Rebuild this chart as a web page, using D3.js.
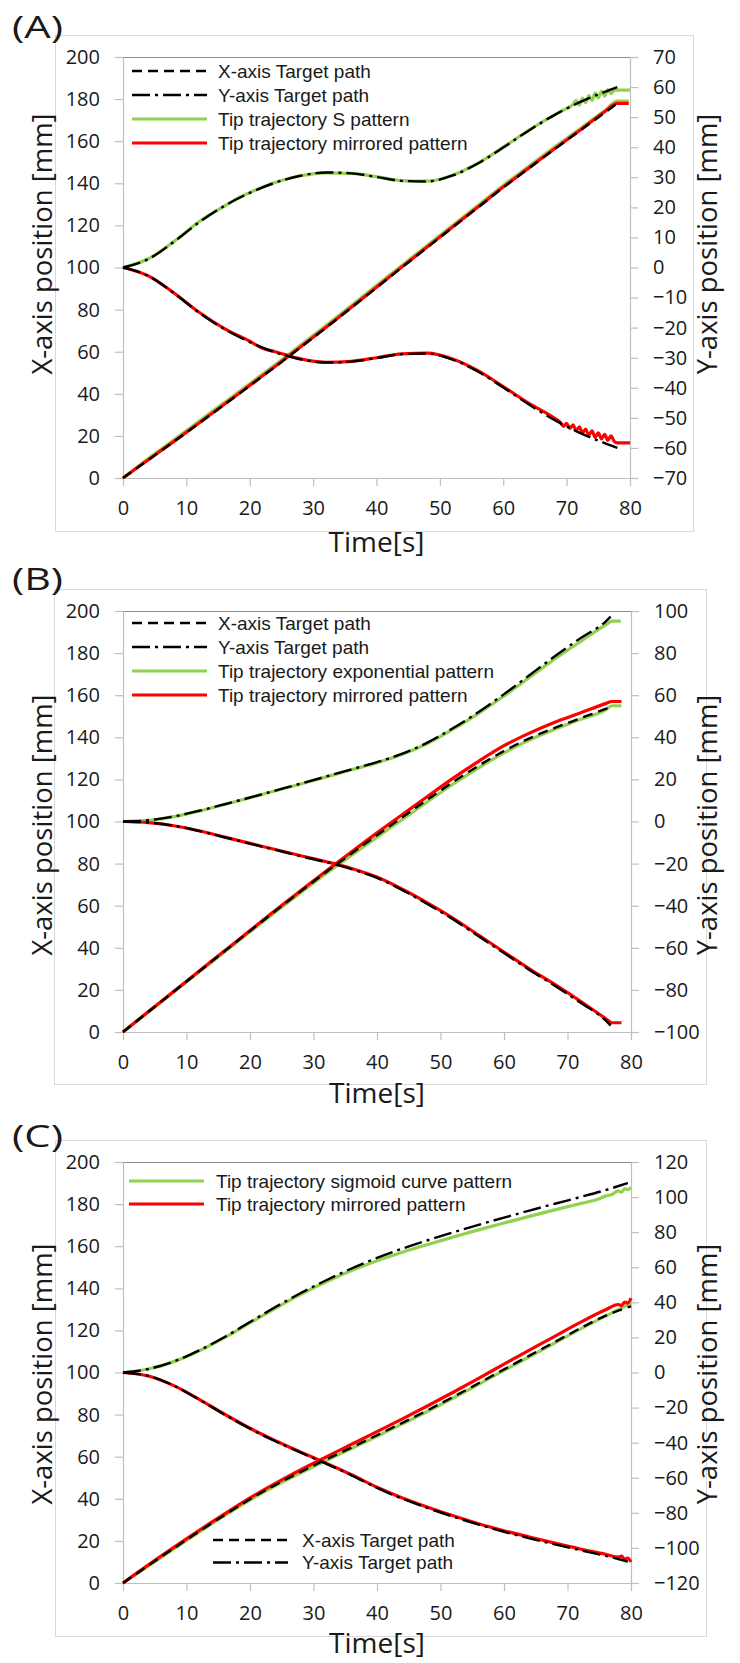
<!DOCTYPE html>
<html>
<head>
<meta charset="utf-8">
<script src="https://cdn.jsdelivr.net/npm/d3@7/dist/d3.min.js"></script>
<style>
  body { margin: 0; background: #fff; }
  svg { display: block; }
  text { font-family: 'Open Sans', sans-serif; fill: #1a1a1a; }
  .legend text { font-family: 'Liberation Sans', Arial, sans-serif; }
</style>
</head>
<body>
<script>
// ---- data: [time s, position mm] ----

// (A) S pattern
const xTargetA = [[0,0],[4,8.6],[8,17.2],[12,26],[16,34.8],[20,43.8],[24,52.8],[28,62],[32,71.3],[36,80.8],[40,90.4],[44,100],[48,109.5],[52,119],[56,128.5],[60,138],[64,147],[68,156],[72,164.8],[76,173.5],[78,178]];
const yTargetA = [[0,0],[4,2.8],[8,8.5],[12,15],[16,20.5],[20,24.8],[24,28.2],[28,30.5],[32,31.6],[36,31.3],[40,30.1],[44,28.8],[48,28.6],[52,30.6],[56,34.6],[60,39.9],[64,45.5],[68,50.6],[72,54.9],[76,58.4],[78,60]];
const yMirrorA = [[0,0],[4,-2.8],[8,-8.5],[12,-15],[16,-20.5],[20,-24.8],[24,-28.2],[28,-30.5],[32,-31.6],[36,-31.3],[40,-30.1],[44,-28.8],[48,-28.6],[52,-30.6],[56,-34.6],[60,-39.9],[64,-45.5],[68,-50.6],[72,-54.9],[76,-58.4],[78,-60]];
const greenXA = [[0,0],[4,9.3],[8,18],[12,27],[16,35.8],[20,44.8],[24,53.8],[28,63],[32,72.3],[36,81.8],[40,91.4],[44,101],[48,110.5],[52,120],[56,129.5],[60,139],[64,148],[68,157],[72,165.6],[76,174.5],[78,179],[79.8,179]];
const redXA = [[0,0],[4,8.7],[8,17.3],[12,26.1],[16,35],[20,44],[24,53],[28,62.2],[32,71.5],[36,81],[40,90.6],[44,100.2],[48,109.7],[52,119.2],[56,128.7],[60,138.2],[64,147.2],[68,156.2],[72,165],[76,174],[78,178],[79.8,178]];
const greenYA = [[0,0],[4,2.9],[8,8.6],[12,15.2],[16,20.4],[18,22.9],[20,24.9],[24,28.3],[28,30.5],[32,31.5],[36,31.3],[40,30.2],[44,28.9],[48,28.7],[52,30.7],[56,34.7],[60,40],[64,45.6],[68,50.7],[70,52.9],[71,54.2],[71.5,55.6],[72,54],[72.5,56.3],[73,54.8],[73.5,57.2],[74,55.6],[74.5,58],[75,56.4],[75.5,58.6],[76,57],[76.5,59.2],[77,57.8],[77.5,59],[80,59]];
const redYA = [[0,0],[4,-2.8],[8,-8.4],[12,-14.9],[16,-20.3],[20,-24.5],[22,-26.9],[24,-28],[28,-30.4],[32,-31.5],[36,-31.2],[40,-30],[44,-28.7],[48,-28.5],[52,-30.4],[56,-34.3],[60,-39.6],[64,-45.1],[68,-50],[69,-51.5],[69.5,-52.8],[70,-51.8],[70.5,-53.5],[71,-52.3],[71.5,-54.3],[72,-53],[72.5,-55],[73,-53.7],[73.5,-55.8],[74,-54.3],[74.5,-56.5],[75,-55],[75.5,-57],[76,-55.5],[76.5,-57.5],[77,-56],[77.5,-57.8],[78,-58.3],[80,-58.3]];

// (B) exponential pattern
const xTargetB = [[0,0],[4,9.6],[8,19.2],[12,28.8],[16,38.4],[20,48],[24,57.5],[28,66.8],[32,76],[36,84.8],[40,93.5],[44,102],[48,110.5],[52,118.8],[56,126.5],[60,133.5],[64,139.5],[68,144.5],[72,149],[76,153.5],[77,154.7]];
const yTargetB = [[0,0],[4,0.6],[8,2.4],[12,5.1],[16,8.2],[20,11.4],[24,14.7],[28,18],[32,21.4],[36,24.8],[40,28.2],[44,32.2],[48,37.6],[52,44.4],[56,52],[60,60.5],[64,69.5],[68,78.5],[72,87],[76,95],[76.8,97.3]];
const yMirrorB = [[0,0],[4,-0.5],[8,-2],[12,-4.5],[16,-7.5],[20,-10.5],[24,-13.5],[28,-16.5],[32,-19.3],[36,-22.6],[40,-26.8],[44,-32.6],[48,-39.3],[52,-46.5],[56,-54.5],[60,-62.5],[64,-70.5],[68,-78],[72,-86],[76,-94.5],[76.8,-97]];
const greenXB = [[0,0],[4,9.4],[8,19],[12,28.5],[16,38],[20,47.6],[24,57],[28,66.2],[32,75.3],[36,84],[40,92.6],[44,101],[48,109.5],[52,117.8],[56,125.5],[60,132.6],[64,138.7],[68,143.8],[72,148.4],[76,153],[77,155],[78.5,155]];
const redXB = [[0,0],[4,9.7],[8,19.3],[12,29],[16,38.6],[20,48.2],[24,57.8],[28,67.2],[32,76.5],[36,85.6],[40,94.6],[44,103.3],[48,112],[52,120.6],[56,128.6],[60,136],[64,142],[68,147.2],[72,151.6],[76,156],[77,157],[78.5,157]];
const greenYB = [[0,0],[4,0.5],[8,2.3],[12,5],[16,8.1],[20,11.3],[24,14.6],[28,17.8],[32,21.2],[36,24.6],[40,27.9],[44,31.9],[48,37.2],[52,43.9],[56,51.4],[60,59.6],[64,68.4],[68,77.2],[72,85.4],[76,93.4],[77,95.2],[78.4,95.2]];
const redYB = [[0,0],[4,-0.5],[8,-2],[12,-4.4],[16,-7.4],[20,-10.4],[24,-13.3],[28,-16.3],[32,-19.1],[36,-22.3],[40,-26.4],[44,-32.2],[48,-38.8],[52,-46],[56,-54],[60,-62],[64,-70],[68,-77.4],[72,-85.3],[76,-93.6],[77,-95.6],[78.5,-95.6]];

// (C) sigmoid curve pattern
const xTargetC = [[0,0],[4,8.3],[8,16.5],[12,24.5],[16,32.3],[20,39.8],[24,46.6],[28,52.8],[32,58.7],[36,64.4],[40,70.2],[44,76.1],[48,82.1],[52,88.4],[56,94.9],[60,101.5],[64,108],[68,114.5],[72,121],[76,127],[80,131.5]];
const yTargetC = [[0,0],[4,2],[8,6.3],[12,12.6],[16,20.2],[20,28.8],[24,37.3],[28,45.3],[32,52.6],[36,59.3],[40,65.3],[44,70.6],[48,75.4],[52,79.9],[56,84.2],[60,88.3],[64,92.3],[68,96.2],[72,100],[76,104],[79.5,108]];
const yMirrorC = [[0,0],[4,-2],[8,-7.5],[12,-15.5],[16,-24],[20,-32],[24,-39.2],[28,-45.7],[32,-52],[36,-58.6],[40,-65.8],[44,-72],[48,-77.3],[52,-82.2],[56,-86.7],[60,-90.8],[64,-94.5],[68,-98],[72,-101.3],[76,-104.5],[79.5,-107.8]];
const greenXC = [[0,0],[4,8.1],[8,16.2],[12,24.2],[16,32],[20,39.4],[24,46.1],[28,52.3],[32,58.2],[36,63.9],[40,69.7],[44,75.6],[48,81.6],[52,87.9],[56,94.4],[60,101],[64,107.5],[68,114],[72,120.6],[76,126.8],[80,133]];
const redXC = [[0,0],[4,8.6],[8,16.9],[12,25],[16,32.8],[20,40.4],[24,47.3],[28,53.8],[32,59.9],[36,65.9],[40,71.9],[44,78],[48,84.2],[52,90.6],[56,97.2],[60,104],[64,110.6],[68,117.2],[72,123.8],[76,129.8],[78,132.3],[78.5,131.8],[79,133.5],[79.5,133],[80,135.3]];
const greenYC = [[0,0],[4,2],[8,6.2],[12,12.4],[16,19.9],[20,28.3],[24,36.6],[28,44.5],[32,51.7],[36,58.1],[40,63.7],[44,68.6],[48,73],[52,77.2],[56,81.3],[60,85.2],[64,89],[68,92.7],[72,96.3],[75,99],[76,100.6],[77,101.5],[78,103.5],[78.5,102.8],[79,104.8],[79.5,104.2],[80,105.6]];
const redYC = [[0,0],[4,-2],[8,-7.5],[12,-15.3],[16,-23.8],[20,-31.8],[24,-38.9],[28,-45.4],[32,-51.7],[36,-58.3],[40,-65.4],[44,-71.5],[48,-76.8],[52,-81.7],[56,-86.2],[60,-90.2],[64,-93.8],[68,-97.3],[72,-100.6],[76,-103.6],[78,-105.3],[78.5,-104.6],[79,-106.5],[79.5,-105.8],[80,-108]];

// axis ticks
const timeTicks = [0, 10, 20, 30, 40, 50, 60, 70, 80];
const leftTicks = [0, 20, 40, 60, 80, 100, 120, 140, 160, 180, 200];
const rightTicksA = [-70, -60, -50, -40, -30, -20, -10, 0, 10, 20, 30, 40, 50, 60, 70];
const rightTicksB = [-100, -80, -60, -40, -20, 0, 20, 40, 60, 80, 100];
const rightTicksC = [-120, -100, -80, -60, -40, -20, 0, 20, 40, 60, 80, 100, 120];

const legendA = ["X-axis Target path", "Y-axis Target path", "Tip trajectory S pattern", "Tip trajectory mirrored pattern"];
const legendB = ["X-axis Target path", "Y-axis Target path", "Tip trajectory exponential pattern", "Tip trajectory mirrored pattern"];
const legendC1 = ["Tip trajectory sigmoid curve pattern", "Tip trajectory mirrored pattern"];
const legendC2 = ["X-axis Target path", "Y-axis Target path"];

const GREEN = '#92d050', RED = '#ff0000', BLACK = '#000';
const DASH = '10,6', DASHDOT = '18,5,3,5';

let svg = d3.select("body").append("svg")
    .attr("width", 740)
    .attr("height", 1663);

function drawPanel(p) {
    let g = svg.append('g');

    // outer chart frame
    g.append('rect')
        .attr('x', p.frame[0] + 0.5).attr('y', p.frame[1] + 0.5)
        .attr('width', p.frame[2] - p.frame[0]).attr('height', p.frame[3] - p.frame[1])
        .attr('fill', 'none').attr('stroke', '#d9d9d9');

    // panel letter, drawn wide like the original
    g.append('text').attr('x', 12).attr('y', p.labelY)
        .style('font-size', '31px')
        .attr('textLength', 51).attr('lengthAdjust', 'spacingAndGlyphs')
        .text(p.label);

    let x = d3.scaleLinear().domain([0, 80]).range([p.left, p.right]);
    let yL = d3.scaleLinear().domain([0, 200]).range([p.bottom, p.top]);
    let yR = d3.scaleLinear().domain([p.rTicks[0], p.rTicks[p.rTicks.length - 1]]).range([p.bottom, p.top]);

    // plot area top border
    g.append('line')
        .attr('x1', p.left).attr('x2', p.right)
        .attr('y1', p.top + 0.5).attr('y2', p.top + 0.5)
        .attr('stroke', '#8c8c8c');

    let styleAxis = sel => {
        sel.selectAll('path,line').attr('stroke', '#bfbfbf').attr('stroke-width', 1.2);
        sel.selectAll('text').style('font-size', '20px').attr('fill', '#1a1a1a')
            .style('font-family', "'Open Sans', sans-serif");
    };

    g.append('g').attr('transform', `translate(0,${p.bottom})`)
        .call(d3.axisBottom(x).tickValues(timeTicks).tickSize(8).tickPadding(15).tickSizeOuter(0))
        .call(styleAxis);
    g.append('g').attr('transform', `translate(${p.left},0)`)
        .call(d3.axisLeft(yL).tickValues(leftTicks).tickSize(8).tickPadding(15).tickSizeOuter(0))
        .call(styleAxis);
    g.append('g').attr('transform', `translate(${p.right},0)`)
        .call(d3.axisRight(yR).tickValues(p.rTicks).tickSize(8).tickPadding(15).tickSizeOuter(0))
        .call(styleAxis);

    // axis titles
    g.append('text').attr('x', (p.left + p.right) / 2).attr('y', p.bottom + p.timeDy)
        .attr('text-anchor', 'middle').style('font-size', '28px').text('Time[s]');
    g.append('text').attr('transform', `translate(52,${p.titleCy}) rotate(-90)`)
        .attr('text-anchor', 'middle').style('font-size', '27.5px').text('X-axis position [mm]');
    g.append('text').attr('transform', `translate(717,${p.titleCy}) rotate(-90)`)
        .attr('text-anchor', 'middle').style('font-size', '27.5px').text('Y-axis position [mm]');

    let lineL = d3.line().x(d => x(d[0])).y(d => yL(d[1])).curve(d3.curveMonotoneX);
    let lineR = d3.line().x(d => x(d[0])).y(d => yR(d[1])).curve(d3.curveMonotoneX);

    let draw = (data, gen, color, width, dash) => {
        g.append('path').datum(data)
            .attr('d', gen)
            .attr('fill', 'none')
            .attr('stroke', color)
            .attr('stroke-width', width)
            .attr('stroke-dasharray', dash || null)
            .attr('stroke-linejoin', 'round');
    };

    // tip trajectories first, targets on top
    draw(p.greenX, lineL, GREEN, 3.2);
    draw(p.greenY, lineR, GREEN, 3.2);
    draw(p.redX, lineL, RED, 3.2);
    draw(p.redY, lineR, RED, 3.2);
    draw(p.xTarget, lineL, BLACK, 2.4, DASH);
    draw(p.yTarget, lineR, BLACK, 2.4, DASHDOT);
    draw(p.yMirror, lineR, BLACK, 2.4, DASHDOT);

    // legends
    p.legends.forEach(lg => {
        let lgG = g.append('g').attr('class', 'legend');
        lg.items.forEach((txt, i) => {
            let yy = lg.y + i * lg.step;
            lgG.append('line')
                .attr('x1', lg.x).attr('x2', lg.x + 75)
                .attr('y1', yy).attr('y2', yy)
                .attr('stroke', lg.colors[i])
                .attr('stroke-width', lg.dashes[i] ? 2.6 : 3)
                .attr('stroke-dasharray', lg.dashes[i]);
            lgG.append('text')
                .attr('x', lg.x + lg.textDx).attr('y', yy + 6.5)
                .style('font-size', '19px')
                .text(txt);
        });
    });
}

drawPanel({
    label: '(A)', labelY: 38, timeDy: 74, titleCy: 244,
    frame: [55, 35, 693, 531],
    left: 123, right: 630, top: 57, bottom: 478,
    rTicks: rightTicksA,
    xTarget: xTargetA, yTarget: yTargetA, yMirror: yMirrorA,
    greenX: greenXA, greenY: greenYA, redX: redXA, redY: redYA,
    legends: [{x: 132, y: 71, step: 24, textDx: 86, items: legendA,
        colors: [BLACK, BLACK, GREEN, RED], dashes: [DASH, DASHDOT, null, null]}]
});

drawPanel({
    label: '(B)', labelY: 590, timeDy: 71, titleCy: 825,
    frame: [54, 589, 706, 1084],
    left: 123, right: 631, top: 611, bottom: 1032,
    rTicks: rightTicksB,
    xTarget: xTargetB, yTarget: yTargetB, yMirror: yMirrorB,
    greenX: greenXB, greenY: greenYB, redX: redXB, redY: redYB,
    legends: [{x: 132, y: 623, step: 24, textDx: 86, items: legendB,
        colors: [BLACK, BLACK, GREEN, RED], dashes: [DASH, DASHDOT, null, null]}]
});

drawPanel({
    label: '(C)', labelY: 1147, timeDy: 70, titleCy: 1374,
    frame: [55, 1140, 706, 1636],
    left: 123, right: 631, top: 1162, bottom: 1583,
    rTicks: rightTicksC,
    xTarget: xTargetC, yTarget: yTargetC, yMirror: yMirrorC,
    greenX: greenXC, greenY: greenYC, redX: redXC, redY: redYC,
    legends: [
        {x: 129, y: 1181, step: 23, textDx: 87, items: legendC1, colors: [GREEN, RED], dashes: [null, null]},
        {x: 213, y: 1540, step: 22.5, textDx: 89, items: legendC2, colors: [BLACK, BLACK], dashes: [DASH, DASHDOT]}
    ]
});
</script>
</body>
</html>
